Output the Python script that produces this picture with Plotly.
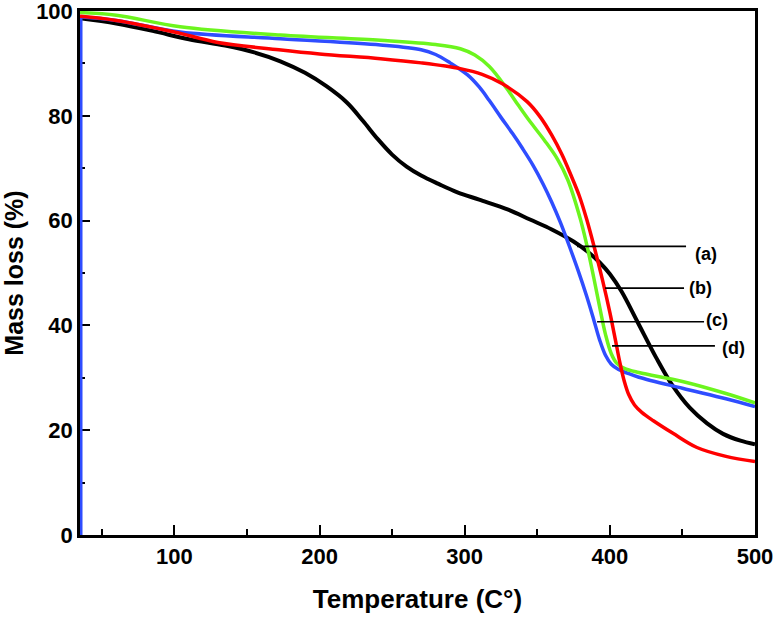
import plotly.graph_objects as go

# ---- data ----
black_T = [35, 60, 85, 110, 135, 155, 173, 190, 205, 219, 230, 240, 250, 260, 270, 282, 295, 310, 330, 345, 360, 375, 385, 393, 400, 408, 419, 432, 443, 455, 467, 478, 490, 500]
black_M = [98.6, 97.6, 96.2, 94.6, 93.4, 92.1, 90.4, 88.2, 85.6, 82.5, 79.0, 75.6, 72.6, 70.3, 68.6, 67.0, 65.4, 64.0, 62.1, 60.2, 58.3, 56.0, 54.0, 52.0, 49.8, 46.5, 40.7, 33.8, 28.6, 24.3, 21.3, 19.3, 18.0, 17.3]

red_T = [35, 60, 100, 130, 172, 200, 242, 270, 297, 312, 326, 343, 352, 360, 367, 373, 379, 384, 389, 395, 400, 404, 407, 410, 413, 417, 422, 430, 443.5, 460, 480, 500]
red_M = [99.0, 98.2, 96.0, 94.0, 92.6, 91.8, 90.9, 90.1, 89.0, 87.9, 86.1, 82.7, 79.8, 76.3, 72.6, 68.8, 64.7, 60.3, 55.2, 48.6, 42.5, 37.0, 32.8, 29.3, 26.8, 24.8, 23.4, 21.8, 19.4, 16.7, 15.0, 14.0]

blue_T = [35, 60, 104, 173, 242, 270, 280, 290, 302, 310, 317, 325, 333, 340, 347, 354, 360, 366, 372, 378, 384, 389, 393, 397, 401, 406, 412, 420, 450, 480, 500]
blue_M = [98.9, 98.2, 96.0, 94.7, 93.5, 92.6, 91.7, 90.1, 87.8, 85.5, 82.9, 79.7, 76.6, 73.7, 70.6, 67.0, 63.5, 59.6, 55.2, 50.6, 45.6, 41.0, 37.2, 34.3, 32.6, 31.6, 30.9, 30.1, 28.0, 26.0, 24.5]
blue_base = 0  # curve (c) starts from the baseline at the first temperature

green_T = [35, 60, 104, 173, 242, 280, 297, 307, 317, 329, 337, 345, 355, 364, 371, 379.5, 384, 389, 393, 397, 401, 405, 410, 420, 450, 480, 500]
green_M = [99.7, 99.2, 97.0, 95.4, 94.4, 93.6, 92.8, 91.6, 89.4, 85.2, 82.0, 78.9, 75.3, 71.7, 67.8, 60.5, 55.5, 49.0, 43.5, 38.3, 34.6, 32.7, 31.8, 31.0, 29.3, 27.0, 25.2]

labels = ["(a)", "(b)", "(c)", "(d)"]
leader_y = [55.1, 47.1, 40.7, 36.1]
leader_x0 = [377.4, 396.7, 391.2, 401.5]
leader_x1 = [452.5, 451.1, 464.9, 472.4]
label_x = [466.5, 462.5, 474.0, 485.0]
label_y = [53.6, 47.1, 41.0, 35.6]

x_ticks = [100, 200, 300, 400, 500]
y_ticks = [0, 20, 40, 60, 80, 100]

fig = go.Figure()

def add_curve(T, M, color, width):
    fig.add_trace(go.Scatter(x=T, y=M, mode="lines",
                             line=dict(color=color, width=width, shape="spline", smoothing=1.0),
                             showlegend=False, hoverinfo="skip"))

add_curve(black_T, black_M, "#000000", 4)
add_curve(blue_T, blue_M, "#2f4dff", 3.5)
fig.add_trace(go.Scatter(x=[blue_T[0], blue_T[0]], y=[blue_base, blue_M[0]], mode="lines",
                         line=dict(color="#2f4dff", width=5), showlegend=False, hoverinfo="skip"))
add_curve(green_T, green_M, "#6cf51e", 3.5)
add_curve(red_T, red_M, "#ff0000", 3.5)

for i in range(len(labels)):
    fig.add_trace(go.Scatter(x=[leader_x0[i], leader_x1[i]], y=[leader_y[i], leader_y[i]],
                             mode="lines", line=dict(color="#000000", width=1.7),
                             showlegend=False, hoverinfo="skip"))
    fig.add_annotation(x=label_x[i], y=label_y[i], text="<b>%s</b>" % labels[i], showarrow=False,
                       font=dict(family="Liberation Sans, Arial", size=18, color="#000000"),
                       xanchor="center", yanchor="middle")

axis_font = dict(family="Liberation Sans, Arial", size=22, color="#000000")

fig.update_layout(
    width=773, height=628,
    margin=dict(l=80, r=18, t=11, b=93, autoexpand=False),
    paper_bgcolor="white", plot_bgcolor="white",
    font=dict(family="Liberation Sans, Arial", color="#000000"),
    xaxis=dict(range=[35, 500], tickmode="array", tickvals=x_ticks,
               ticktext=["<b>%d</b>" % v for v in x_ticks],
               ticks="inside", ticklen=10, tickwidth=2, tickcolor="#000000",
               minor=dict(dtick=50, tick0=0, ticks="inside", ticklen=6, tickwidth=2, tickcolor="#000000"),
               showline=True, linecolor="#000000", linewidth=2.5, mirror=True,
               showgrid=False, zeroline=False, tickfont=axis_font, automargin=False,
               ticklabeloverflow="allow",
               layer="below traces",
               title=dict(text="<b>Temperature (C°)</b>", font=dict(family="Liberation Sans, Arial", size=26), standoff=22)),
    yaxis=dict(range=[0, 100], tickmode="array", tickvals=y_ticks,
               ticktext=["<b>%d</b>" % v for v in y_ticks],
               ticks="inside", ticklen=10, tickwidth=2, tickcolor="#000000",
               minor=dict(dtick=10, tick0=0, ticks="inside", ticklen=5, tickwidth=2, tickcolor="#000000"),
               showline=True, linecolor="#000000", linewidth=2.5, mirror=True,
               showgrid=False, zeroline=False, tickfont=axis_font, automargin=False,
               ticklabeloverflow="allow",
               layer="below traces",
               title=dict(text="<b>Mass loss (%)</b>", font=dict(family="Liberation Sans, Arial", size=25), standoff=22)),
)

fig.write_html("out.html", config={"displayModeBar": False},
               post_script="document.body.style.margin='0';document.body.style.overflow='hidden';")
